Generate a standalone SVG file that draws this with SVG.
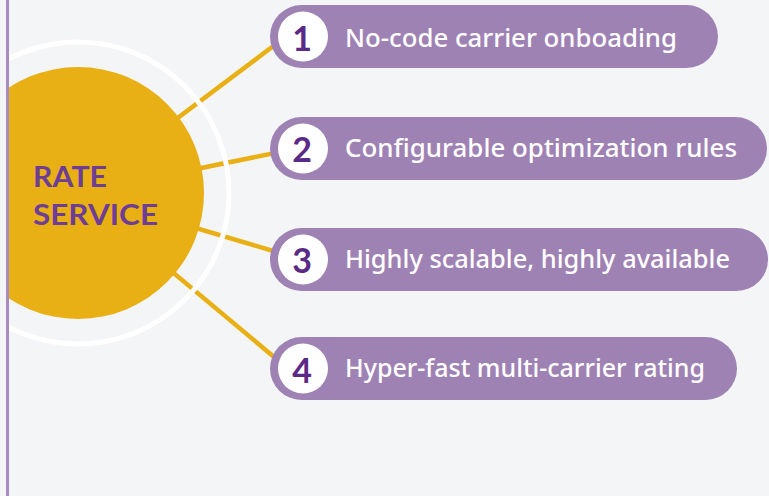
<svg xmlns="http://www.w3.org/2000/svg" width="769" height="496" viewBox="0 0 769 496">
<defs>
<style>
.pill{fill:#9f82b4;}
.num-bg{fill:#ffffff;}
.num{font-family:"Lato","Liberation Sans",sans-serif;font-weight:700;font-size:34px;fill:#5b2a86;text-anchor:middle;}
.lbl{font-family:"Noto Sans","Liberation Sans",sans-serif;font-weight:500;font-size:25px;fill:#ffffff;}
.conn{stroke:#e8b014;stroke-width:4.5;fill:none;}
.hub{font-family:"Lato","Liberation Sans",sans-serif;font-weight:700;font-size:28px;fill:#6e3d96;}
</style>
<clipPath id="clipL"><rect x="9" y="0" width="760" height="496"/></clipPath>
</defs>
<rect x="0" y="0" width="769" height="496" fill="#f4f5f7"/>
<g id="connectors" clip-path="url(#clipL)">
<line class="conn" x1="78" y1="193" x2="280" y2="41"/>
<line class="conn" x1="78" y1="193" x2="280" y2="152"/>
<line class="conn" x1="78" y1="193" x2="280" y2="253"/>
<line class="conn" x1="78" y1="193" x2="280" y2="362"/>
</g>
<g id="hub" clip-path="url(#clipL)">
<circle cx="78" cy="193" r="151" fill="none" stroke="#ffffff" stroke-width="5"/>
<circle cx="78" cy="193" r="126" fill="#e8b014"/>
<text class="hub" x="33" y="187" textLength="74" lengthAdjust="spacingAndGlyphs">RATE</text>
<text class="hub" x="33" y="225" textLength="125" lengthAdjust="spacingAndGlyphs">SERVICE</text>
</g>
<rect id="left-rule" x="6" y="0" width="3" height="496" fill="#a68cc0"/>
<g id="node1">
<rect class="pill" x="270" y="5" width="448" height="63" rx="31.5"/>
<circle class="num-bg" cx="303" cy="36.5" r="25"/>
<text class="num" x="302" y="51">1</text>
<text class="lbl" x="345" y="47" textLength="332" lengthAdjust="spacingAndGlyphs">No-code carrier onboading</text>
</g>
<g id="node2">
<rect class="pill" x="270" y="117" width="497" height="63" rx="31.5"/>
<circle class="num-bg" cx="303" cy="148.5" r="25"/>
<text class="num" x="302" y="162">2</text>
<text class="lbl" x="345" y="157" textLength="392" lengthAdjust="spacingAndGlyphs">Configurable optimization rules</text>
</g>
<g id="node3">
<rect class="pill" x="270" y="228" width="498" height="63" rx="31.5"/>
<circle class="num-bg" cx="303" cy="259.5" r="25"/>
<text class="num" x="302" y="273">3</text>
<text class="lbl" x="345" y="268" textLength="385" lengthAdjust="spacingAndGlyphs">Highly scalable, highly available</text>
</g>
<g id="node4">
<rect class="pill" x="270" y="337" width="467" height="63" rx="31.5"/>
<circle class="num-bg" cx="303" cy="368.5" r="25"/>
<text class="num" x="302" y="383">4</text>
<text class="lbl" x="345" y="377" textLength="360" lengthAdjust="spacingAndGlyphs">Hyper-fast multi-carrier rating</text>
</g>
</svg>
